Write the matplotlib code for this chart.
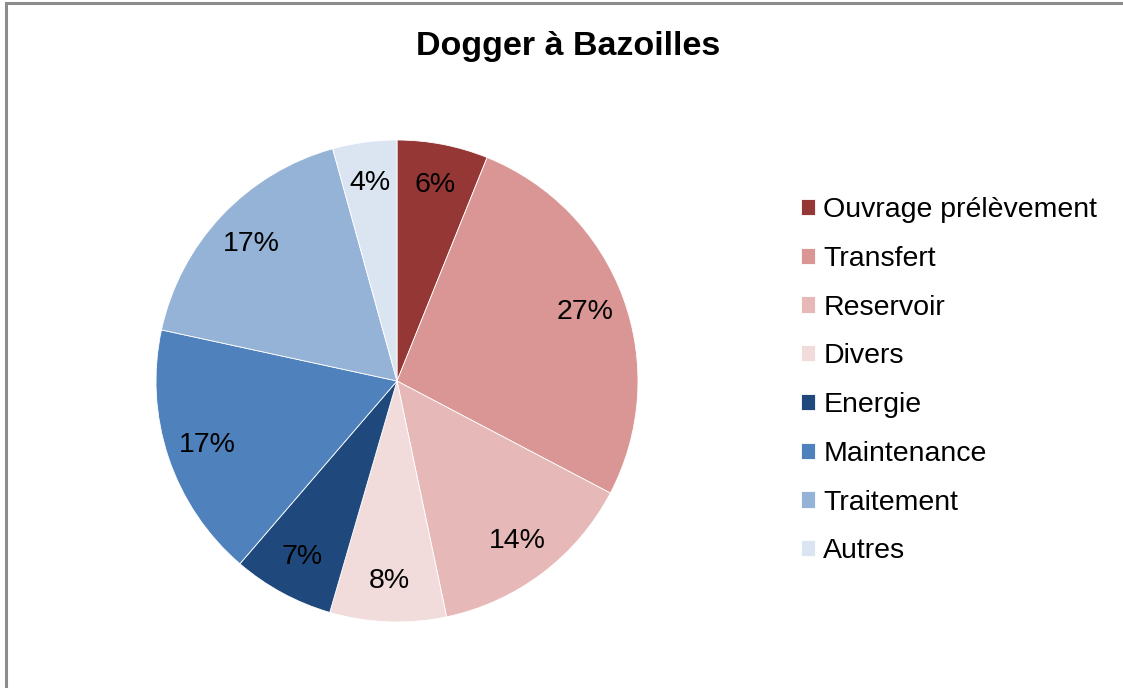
import matplotlib.pyplot as plt
from matplotlib.patches import Rectangle

# Pie data (shares; labels show rounded %)
categories = ['Ouvrage prélèvement', 'Transfert', 'Reservoir', 'Divers',
              'Energie', 'Maintenance', 'Traitement', 'Autres']
shares = [6.1, 26.6, 14.0, 7.8, 6.8, 17.1, 17.3, 4.3]
colors = ['#953735', '#D99694', '#E6B9B8', '#F2DCDB',
          '#1F497D', '#4F81BD', '#95B3D7', '#DBE5F1']

plt.rcParams['font.family'] = ['Liberation Sans', 'DejaVu Sans']

W, H = 1123, 688
fig = plt.figure(figsize=(W / 100, H / 100), dpi=100)

# outer chart frame (left and top edges visible)
fig.patches.append(Rectangle((6 / W, -0.05), 1.2, 1 - 3 / H + 0.05,
                             transform=fig.transFigure, fill=False,
                             edgecolor='#8c8c8c', linewidth=2.2))

cx, cy, r = 397, 381, 241
ax = fig.add_axes([(cx - r) / W, (H - cy - r) / H, 2 * r / W, 2 * r / H])
wedges, texts, autotexts = ax.pie(
    shares, colors=colors, startangle=90, counterclock=False,
    autopct=lambda p: f'{p:.0f}%', pctdistance=0.83,
    wedgeprops=dict(edgecolor='white', linewidth=0.6),
    textprops=dict(fontsize=20.5, color='black'))
ax.set_xlim(-1, 1)
ax.set_ylim(-1, 1)
ax.set_aspect('equal')

fig.text(568 / W, 1 - 47 / H, 'Dogger à Bazoilles', ha='center', va='center',
         fontsize=24.5, fontweight='bold')

fig.legend(wedges, categories, loc='upper left',
           bbox_to_anchor=(801 / W, 1 - 197 / H), frameon=False,
           fontsize=20.5, handlelength=0.5, handleheight=0.5,
           handletextpad=0.28, labelspacing=0.8, borderpad=0, borderaxespad=0)

fig.savefig('out.png', dpi=100, facecolor='white')
